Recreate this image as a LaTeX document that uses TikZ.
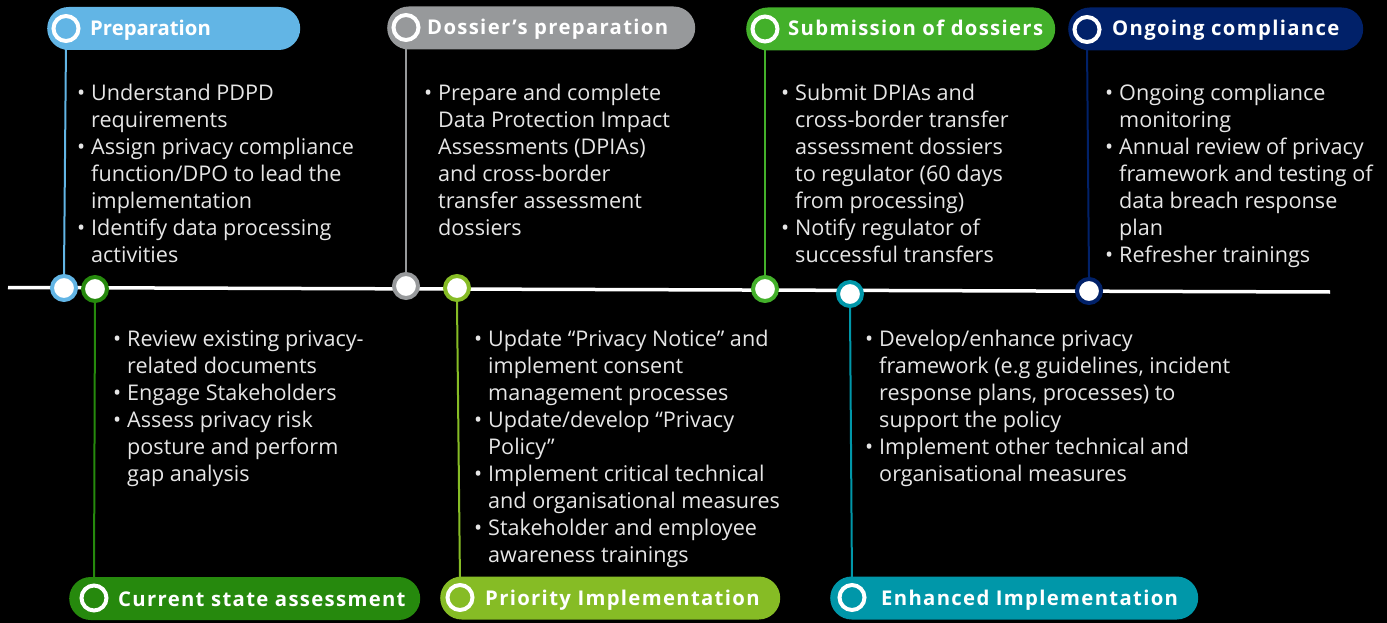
\documentclass[tikz,border=0pt]{standalone}
\usepackage{fontspec}
\setmainfont{Open Sans}
\usepackage{array}
\definecolor{cblue}{HTML}{62B5E5}
\definecolor{cgray}{HTML}{97999B}
\definecolor{cgreen}{HTML}{43B02A}
\definecolor{cnavy}{HTML}{012169}
\definecolor{cdkgreen}{HTML}{26890D}
\definecolor{clime}{HTML}{86BC25}
\definecolor{cteal}{HTML}{0097A9}
\definecolor{txt}{HTML}{E6E6E6}
\pgfdeclarelayer{bg}
\pgfsetlayers{bg,main}
\newcommand{\bu}{\makebox[14pt][l]{•}}
\newenvironment{blist}{\begin{tabular}[t]{@{}l@{}l@{}}}{\end{tabular}}
\tikzset{
  pill/.style={rectangle, rounded corners=21.5pt, inner sep=0pt, minimum height=43pt, anchor=west},
  ring/.style={circle, draw=white, line width=4pt, minimum size=25pt, inner sep=0pt},
  dot/.style={circle, fill=white, line width=4pt, minimum size=24pt, inner sep=0pt},
  htext/.style={anchor=base west, inner sep=0pt, text=white, font=\fontsize{20.3}{24}\selectfont\bfseries\addfontfeature{LetterSpace=6.5}},
  htextn/.style={anchor=base west, inner sep=0pt, text=white, font=\fontsize{20.3}{24}\selectfont\bfseries},
  btext/.style={anchor=base west, inner sep=0pt, text=txt, font=\fontsize{21.6}{27}\selectfont},
  conn/.style={line width=2pt},
}
\begin{document}
\begin{tikzpicture}[x=1pt,y=-1pt]
\begin{pgfonlayer}{bg}
\fill[black] (0,0) rectangle (1387,623);
\end{pgfonlayer}
\useasboundingbox (0,0) rectangle (1387,623);

% timeline
\coordinate (tlA) at (8,287.5);
\coordinate (tlB) at (1330,292);
\begin{pgfonlayer}{bg}
\draw[white, line width=3.5pt] (tlA) -- (tlB);
\end{pgfonlayer}

% headers top
\node[pill, fill=cblue, minimum width=253pt] (p1) at (47,28.5) {};
\node[ring] (r1) at (66,28.5) {};
\node[htextn] (t1) at (90,36) {Preparation};

\node[pill, fill=cgray, minimum width=308pt] (p2) at (387,28) {};
\node[ring] (r2) at (406,27.5) {};
\node[htext] (t2) at (427,35) {Dossier’s preparation};

\node[pill, fill=cgreen, minimum width=309pt] (p3) at (746,29) {};
\node[ring] (r3) at (765,29) {};
\node[htext] (t3) at (788,36) {Submission of dossiers};

\node[pill, fill=cnavy, minimum width=295pt] (p4) at (1068,29) {};
\node[ring] (r4) at (1087,29.5) {};
\node[htext] (t4) at (1112,36) {Ongoing compliance};

% headers bottom
\node[pill, fill=cdkgreen, minimum width=351pt] (p5) at (69,598.5) {};
\node[ring] (r5) at (94,598) {};
\node[htext] (t5) at (118,606) {Current state assessment};

\node[pill, fill=clime, minimum width=340pt] (p6) at (440,598) {};
\node[ring] (r6) at (460,597.5) {};
\node[htext] (t6) at (485,605) {Priority Implementation};

\node[pill, fill=cteal, minimum width=368pt] (p7) at (830,598) {};
\node[ring] (r7) at (852,597.5) {};
\node[htext] (t7) at (881,605) {Enhanced Implementation};

% dots on timeline
\node[dot, draw=cblue] (d1) at (64,288) {};
\node[dot, draw=cdkgreen] (d5) at (95,289) {};
\node[dot, draw=cgray] (d2) at (406,286) {};
\node[dot, draw=clime] (d6) at (457,288) {};
\node[dot, draw=cgreen] (d3) at (765,289) {};
\node[dot, draw=cteal] (d7) at (850,294) {};
\node[dot, draw=cnavy] (d4) at (1089,291) {};

% connectors
\begin{pgfonlayer}{bg}
\draw[conn, cblue] (r1.south) -- (d1.north);
\draw[conn, cgray] (r2.south) -- (d2.north);
\draw[conn, cgreen] (r3.south) -- (d3.north);
\draw[conn, cnavy] (r4.south) -- (d4.north);
\draw[conn, cdkgreen] (d5.south) -- (r5.north);
\draw[conn, clime] (d6.south) -- (r6.north);
\draw[conn, cteal] (d7.south) -- (r7.north);
\end{pgfonlayer}

% bullet texts
\node[btext] (b1) at (77,100.5) {\begin{blist}
\bu & Understand PDPD\\
 & requirements\\
\bu & Assign privacy compliance\\
 & function/DPO to lead the\\
 & implementation\\
\bu & Identify data processing\\
 & activities
\end{blist}};

\node[btext] (b2) at (424,100.5) {\begin{blist}
\bu & Prepare and complete\\
 & Data Protection Impact\\
 & Assessments (DPIAs)\\
 & and cross-border\\
 & transfer assessment\\
 & dossiers
\end{blist}};

\node[btext] (b3) at (781,100.5) {\begin{blist}
\bu & Submit DPIAs and\\
 & cross-border transfer\\
 & assessment dossiers\\
 & to regulator (60 days\\
 & from processing)\\
\bu & Notify regulator of\\
 & successful transfers
\end{blist}};

\node[btext] (b4) at (1105,100.5) {\begin{blist}
\bu & Ongoing compliance\\
 & monitoring\\
\bu & Annual review of privacy\\
 & framework and testing of\\
 & data breach response\\
 & plan\\
\bu & Refresher trainings
\end{blist}};

\node[btext] (b5) at (113,346) {\begin{blist}
\bu & Review existing privacy-\\
 & related documents\\
\bu & Engage Stakeholders\\
\bu & Assess privacy risk\\
 & posture and perform\\
 & gap analysis
\end{blist}};

\node[btext] (b6) at (474,346) {\begin{blist}
\bu & Update “Privacy Notice” and\\
 & implement consent\\
 & management processes\\
\bu & Update/develop “Privacy\\
 & Policy”\\
\bu & Implement critical technical\\
 & and organisational measures\\
\bu & Stakeholder and employee\\
 & awareness trainings
\end{blist}};

\node[btext] (b7) at (865,346) {\begin{blist}
\bu & Develop/enhance privacy\\
 & framework (e.g guidelines, incident\\
 & response plans, processes) to\\
 & support the policy\\
\bu & Implement other technical and\\
 & organisational measures
\end{blist}};
\end{tikzpicture}
\end{document}
